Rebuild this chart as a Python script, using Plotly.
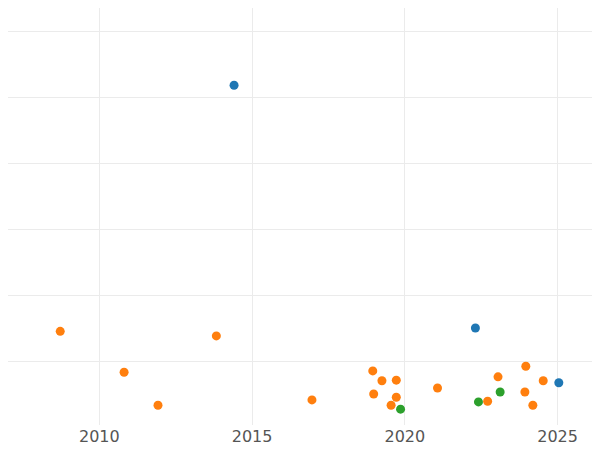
import plotly.graph_objects as go

blue_x = [2014.41, 2022.31, 2025.04]
blue_y = [5.18, 1.50, 0.67]
orange_x = [2008.72, 2010.81, 2011.92, 2013.83, 2016.96, 2018.95, 2018.98, 2019.25,
            2019.55, 2019.72, 2019.72, 2021.07, 2022.71, 2023.05, 2023.96, 2023.93,
            2024.19, 2024.53]
orange_y = [1.45, 0.83, 0.33, 1.38, 0.41, 0.85, 0.50, 0.70,
            0.33, 0.71, 0.45, 0.59, 0.39, 0.76, 0.92, 0.53,
            0.33, 0.70]
green_x = [2019.86, 2022.41, 2023.12]
green_y = [0.27, 0.38, 0.53]

fig = go.Figure()
for xs, ys, color in [(blue_x, blue_y, "#1f77b4"),
                      (orange_x, orange_y, "#ff7f0e"),
                      (green_x, green_y, "#2ca02c")]:
    fig.add_trace(go.Scatter(x=xs, y=ys, mode="markers",
                             marker=dict(color=color, size=9), showlegend=False))

fig.update_layout(
    width=600, height=450, template="plotly_white",
    margin=dict(l=0, r=0, t=0, b=33),
    font=dict(family="DejaVu Sans", size=16, color="#555"),
)
fig.update_xaxes(range=[2007.01, 2026.65], tickvals=[2010, 2015, 2020, 2025],
                 showgrid=True, gridcolor="#ebebeb", zeroline=False)
fig.update_yaxes(range=[0.03, 6.35], dtick=1, showticklabels=False,
                 gridcolor="#ebebeb", zeroline=False)
fig.write_html("out.html")
